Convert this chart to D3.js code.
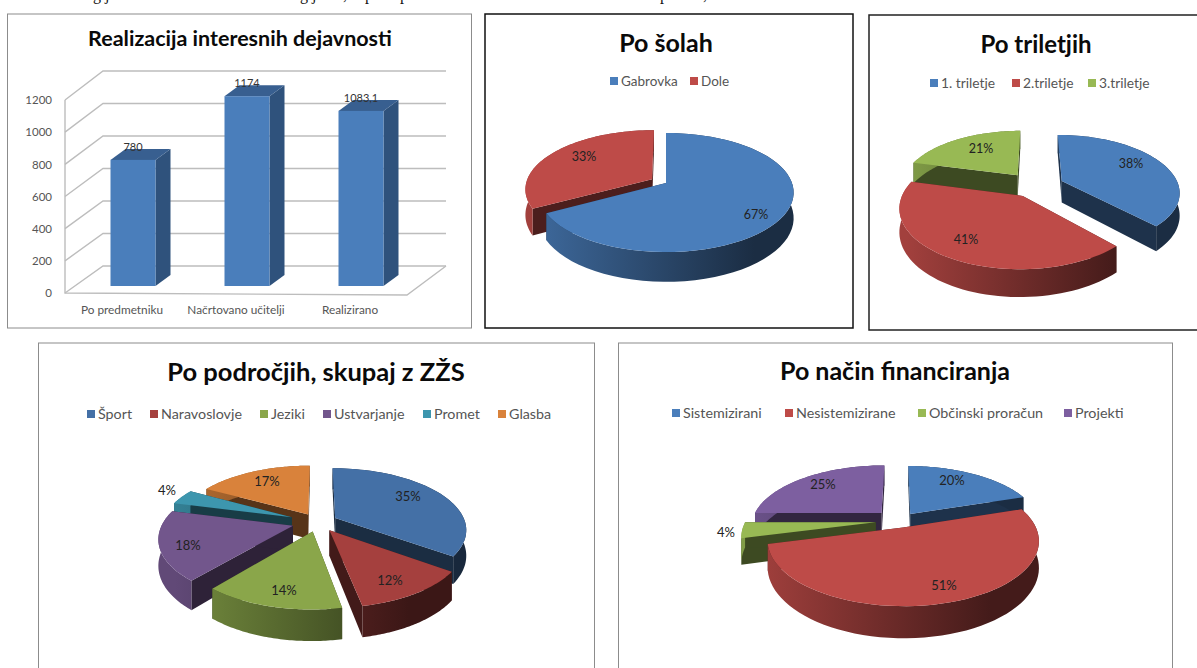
<!DOCTYPE html>
<html>
<head>
<meta charset="utf-8">
<script src="https://cdn.jsdelivr.net/npm/d3@7"></script>
<style>
  body { margin: 0; background: #fff; }
  svg { display: block; }
  text { font-family: Lato, "Open Sans", sans-serif; }
</style>
</head>
<body>
<div id="chart"></div>
<script>
// bar chart data
const barCategories = ["Po predmetniku", "Načrtovano učitelji", "Realizirano"];
const barValues = [780, 1174, 1083.1];
const barLabels = ["780", "1174", "1083,1"];
const barTicks = [0, 200, 400, 600, 800, 1000, 1200];

// pie chart data
const solaNames = ["Gabrovka", "Dole"];
const solaValues = [67, 33];
const triletjeNames = ["1. triletje", "2.triletje", "3.triletje"];
const triletjeValues = [38, 41, 21];
const podrocjeNames = ["Šport", "Naravoslovje", "Jeziki", "Ustvarjanje", "Promet", "Glasba"];
const podrocjeValues = [35, 12, 14, 18, 4, 17];
const financeNames = ["Sistemizirani", "Nesistemizirane", "Občinski proračun", "Projekti"];
const financeValues = [20, 51, 4, 25];

const width = 1197;
const height = 668;

const svg = d3
  .select("#chart")
  .append("svg")
  .attr("width", width)
  .attr("height", height);

const defs = svg.append("defs");

// Line of body text above the charts: only its descenders are left in the picture
const clipped = svg
  .append("g")
  .style("font-size", "16px")
  .attr("fill", "#111");
[["g j", 93], ["g j", 300], [",", 343], ["p", 365], ["p", 400], ["p", 660], [",", 703]].forEach((d) => {
  clipped
    .append("text")
    .attr("x", d[1])
    .attr("y", 0)
    .style("font-family", "'Liberation Serif', serif")
    .text(d[0]);
});

// Frames
function frame(x, y, w, h, color, sw) {
  svg
    .append("rect")
    .attr("x", x)
    .attr("y", y)
    .attr("width", w)
    .attr("height", h)
    .attr("fill", "#fff")
    .attr("stroke", color)
    .attr("stroke-width", sw);
}

function title(text, x, y, size) {
  svg
    .append("text")
    .attr("x", x)
    .attr("y", y)
    .attr("text-anchor", "middle")
    .style("font-size", size + "px")
    .style("font-weight", "bold")
    .attr("fill", "#0a0a0a")
    .text(text);
}

// Legend: items placed left to right from the measured swatch positions
function legend(names, colors, xs, y, size) {
  names.forEach((name, i) => {
    svg
      .append("rect")
      .attr("x", xs[i])
      .attr("y", y - 4)
      .attr("width", 8)
      .attr("height", 8)
      .attr("fill", colors[i]);
    svg
      .append("text")
      .attr("x", xs[i] + 11)
      .attr("y", y + 5)
      .style("font-size", size + "px")
      .attr("fill", "#555")
      .text(name);
  });
}

function darker(color, k) {
  const c = d3.rgb(color);
  return d3.rgb(c.r * k, c.g * k, c.b * k).formatHex();
}

// 3D pie: d3.pie gives the angles, a small perspective projection does the rest
function pie3d(o) {
  const project = (u, v, z) => {
    const s = 1 / (1 - o.persp * v);
    return [o.cx + o.rx * u * s, o.cy + o.ry * v * s + z * s];
  };

  const arcs = d3.pie().sort(null)(o.values);

  const slices = arcs.map((a, i) => {
    const mid = (a.startAngle + a.endAngle) / 2;
    const e = o.explode[i];
    const ox = e * Math.sin(mid);
    const oy = -e * Math.cos(mid);
    const ground = (t) => [ox + Math.sin(t), oy - Math.cos(t)];
    const angles = d3.range(0, 61).map((k) => a.startAngle + ((a.endAngle - a.startAngle) * k) / 60);
    return { i, mid, ox, oy, ground, angles, v: oy };
  });

  const line = d3.line();
  const g = svg.append("g");

  slices.sort((a, b) => a.v - b.v).forEach((d) => {
    const color = o.colors[d.i];
    const gradId = `${o.id}-wall-${d.i}`;
    const grad = defs
      .append("linearGradient")
      .attr("id", gradId)
      .attr("gradientUnits", "userSpaceOnUse")
      .attr("x1", o.cx - o.rx * 1.1)
      .attr("x2", o.cx + o.rx * 0.7)
      .attr("y1", 0)
      .attr("y2", 0);
    grad.append("stop").attr("offset", 0).attr("stop-color", darker(color, 0.85));
    grad.append("stop").attr("offset", 1).attr("stop-color", darker(color, 0.36));

    const dark = darker(color, 0.4);
    const apexTop = project(d.ox, d.oy, 0);
    const apexBot = project(d.ox, d.oy, o.depth);
    const first = d.ground(d.angles[0]);
    const last = d.ground(d.angles[60]);

    // radial cut faces
    [first, last].forEach((p) => {
      g.append("path")
        .attr("d", line([apexTop, project(p[0], p[1], 0), project(p[0], p[1], o.depth), apexBot]) + "Z")
        .attr("fill", dark);
    });

    // outer wall
    const topEdge = d.angles.map((t) => project(...d.ground(t), 0));
    const botEdge = d.angles.map((t) => project(...d.ground(t), o.depth)).reverse();
    g.append("path")
      .attr("d", line(topEdge.concat(botEdge)) + "Z")
      .attr("fill", `url(#${gradId})`);

    // top surface
    g.append("path")
      .attr("d", line([apexTop].concat(topEdge)) + "Z")
      .attr("fill", color);
  });

  // percent labels
  arcs.forEach((a, i) => {
    const pos = o.labels[i];
    g.append("text")
      .attr("x", pos[0])
      .attr("y", pos[1])
      .attr("text-anchor", "middle")
      .style("font-size", o.labelSize + "px")
      .attr("fill", "#222")
      .text(o.values[i] + "%");
  });
}

// ---- Realizacija interesnih dejavnosti ----
frame(7.5, 14, 464, 314, "#8c8c8c", 1);
title("Realizacija interesnih dejavnosti", 240, 46, 21.5);

const yFront = d3.scaleLinear().domain([0, 1200]).range([293, 100]);
const yBack = d3.scaleLinear().domain([0, 1200]).range([266, 71]);
const yBar = d3.scaleLinear().domain([0, 1200]).range([286, 92]);
const xFront = d3.scaleBand().domain(barCategories).range([65, 407]);
const wallLeft = 103;
const wallRight = 446;
const barWidth = 45;
const barShift = 11;
const sideDx = 15;
const sideDy = 11;

const grid = svg.append("g").attr("stroke", "#bdbdbd").attr("stroke-width", 1.4).attr("fill", "none");
barTicks.forEach((t) => {
  grid.append("path").attr("d", d3.line()([
    [xFront.range()[0], yFront(t)],
    [wallLeft, yBack(t)],
    [wallRight, yBack(t)],
  ]));
});
grid.append("path").attr("d", d3.line()([
  [xFront.range()[0], yFront(1200)],
  [xFront.range()[0], yFront(0)],
  [xFront.range()[1], yFront(0) + 2],
  [wallRight, yBack(0)],
]));

const yAxis = d3.axisLeft(yFront).tickValues(barTicks).tickFormat(d3.format("d")).tickSize(0).tickPadding(13);
const yG = svg.append("g").attr("transform", "translate(65,0)").call(yAxis);
yG.select(".domain").remove();
yG.selectAll("text").style("font-family", "Lato").style("font-size", "11.5px").attr("fill", "#555");

const xAxis = d3.axisBottom(xFront).tickSize(0).tickPadding(11);
const xG = svg.append("g").attr("transform", "translate(0,295)").call(xAxis);
xG.select(".domain").remove();
xG.selectAll("text").style("font-family", "Lato").style("font-size", "11.8px").attr("fill", "#555");

barCategories.forEach((c, i) => {
  const x0 = xFront(c) + xFront.bandwidth() / 2 + barShift - barWidth / 2;
  const x1 = x0 + barWidth;
  const yTop = yBar(barValues[i]);
  const yBase = yBar(0);
  svg.append("path")
    .attr("d", d3.line()([[x1, yTop], [x1 + sideDx, yTop - sideDy], [x1 + sideDx, yBase - sideDy], [x1, yBase]]) + "Z")
    .attr("fill", "#2f527c");
  svg.append("path")
    .attr("d", d3.line()([[x0, yTop], [x0 + sideDx, yTop - sideDy], [x1 + sideDx, yTop - sideDy], [x1, yTop]]) + "Z")
    .attr("fill", "#385f90");
  svg.append("rect")
    .attr("x", x0)
    .attr("y", yTop)
    .attr("width", barWidth)
    .attr("height", yBase - yTop)
    .attr("fill", "#4a7ebb");
  svg.append("text")
    .attr("x", (x0 + x1) / 2)
    .attr("y", yTop - 9)
    .attr("text-anchor", "middle")
    .style("font-size", "11px")
    .attr("fill", "#333")
    .text(barLabels[i]);
});

// ---- Po šolah ----
frame(485, 14, 368, 314, "#111", 1.5);
title("Po šolah", 666, 52, 25);
const solaColors = ["#4a7ebb", "#be4b48"];
legend(solaNames, solaColors, [610, 690], 81, 13.5);
pie3d({
  id: "sola", values: solaValues, colors: solaColors,
  cx: 666, cy: 183, rx: 126, ry: 58, persp: 0.16, depth: 25,
  explode: [0, 0.13], labels: [[756, 219], [584, 161]], labelSize: 12.5,
});

// ---- Po triletjih ----
frame(869, 15, 340, 315, "#222", 1.5);
title("Po triletjih", 1036, 53, 24);
const triletjeColors = ["#4a7ebb", "#be4b48", "#98b954"];
legend(triletjeNames, triletjeColors, [930, 1012, 1088], 83, 13.8);
pie3d({
  id: "triletje", values: triletjeValues, colors: triletjeColors,
  cx: 1035, cy: 186, rx: 117, ry: 56, persp: 0.18, depth: 22,
  explode: [0.25, 0.2, 0.25], labels: [[1131, 168], [966, 244], [981, 153]], labelSize: 12.5,
});

// ---- Po področjih, skupaj z ZŽS ----
frame(38.5, 343, 556, 340, "#8c8c8c", 1);
title("Po področjih, skupaj z ZŽS", 316, 381, 25.5);
const podrocjeColors = ["#4470a6", "#a5403e", "#8aa64a", "#72568c", "#3d96ae", "#d9823b"];
legend(podrocjeNames, podrocjeColors, [87, 150, 260, 323, 423, 498], 414, 14.3);
pie3d({
  id: "podrocje", values: podrocjeValues, colors: podrocjeColors,
  cx: 318, cy: 522, rx: 130, ry: 60, persp: 0.18, depth: 25,
  explode: [0.15, 0.16, 0.16, 0.2, 0.22, 0.15],
  labels: [[408, 501], [390, 585], [284, 595], [188, 550], [167, 495], [267, 486]], labelSize: 13,
});

// ---- Po način financiranja ----
frame(618.5, 343, 554, 340, "#8c8c8c", 1);
title("Po način financiranja", 895, 380, 25);
const financeColors = ["#4a7ebb", "#be4b48", "#98b954", "#7d5fa0"];
legend(financeNames, financeColors, [672, 785, 918, 1064], 413, 14.3);
pie3d({
  id: "finance", values: financeValues, colors: financeColors,
  cx: 899, cy: 521, rx: 130, ry: 60, persp: 0.2, depth: 25,
  explode: [0.15, 0.11, 0.18, 0.195],
  labels: [[952, 485], [944, 590], [726, 537], [823, 489]], labelSize: 13,
});
</script>
</body>
</html>
